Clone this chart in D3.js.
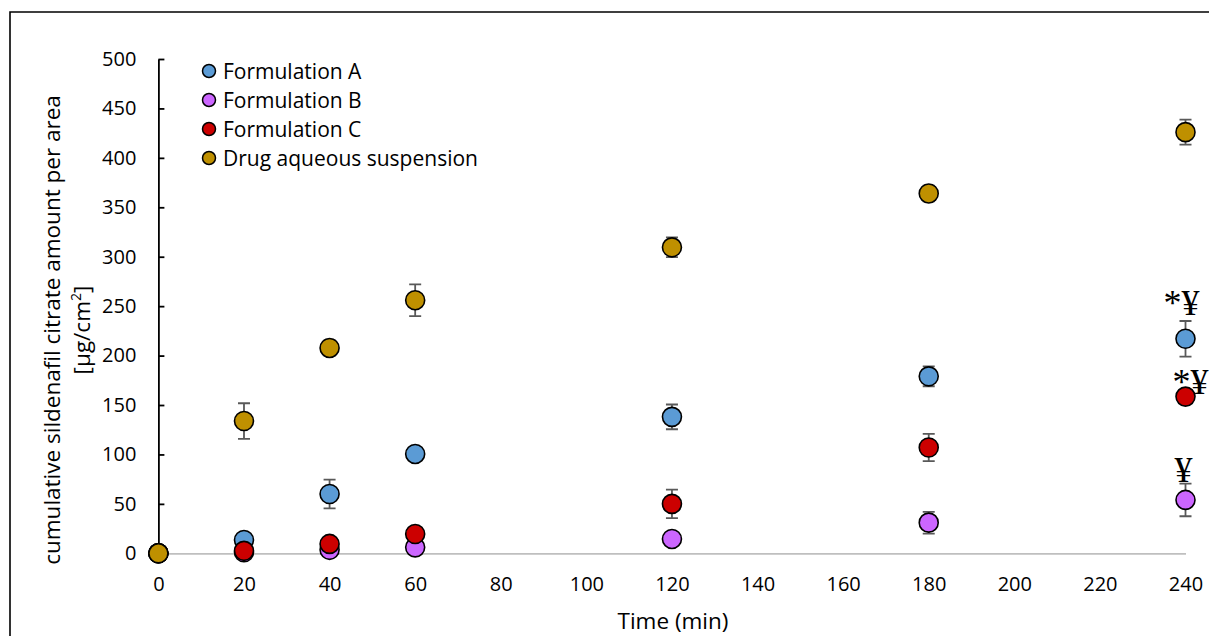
<!DOCTYPE html>
<html>
<head>
<meta charset="utf-8">
<script src="https://cdn.jsdelivr.net/npm/d3@7"></script>
<style>
  body { margin: 0; background: #fff; }
  svg { display: block; font-family: "Open Sans", sans-serif; }
</style>
</head>
<body>
<div id="chart"></div>
<script>
// sampling times (min)
const times = [0, 20, 40, 60, 120, 180, 240]
const y_ticks = [0, 50, 100, 150, 200, 250, 300, 350, 400, 450, 500]
const x_ticks = [0, 20, 40, 60, 80, 100, 120, 140, 160, 180, 200, 220, 240]

const series_names = ["Formulation A", "Formulation B", "Formulation C", "Drug aqueous suspension"]
const series_colors = ["#5b9bd5", "#cc66ff", "#cc0000", "#bf9000"]

// cumulative amount [µg/cm2] and SD
const values_a = [0, 13.5, 60, 100.5, 138, 179, 217]
const errors_a = [0, 2, 14.5, 3, 12.5, 10, 18]
const values_b = [0, 1, 3.5, 6, 14.5, 31, 54]
const errors_b = [0, 1, 2, 3, 3, 11, 16.5]
const values_c = [0, 2.5, 9.5, 19.5, 50, 107, 158.5]
const errors_c = [0, 2, 3, 7, 14.5, 13.8, 5]
const values_d = [0, 133.8, 207.7, 256, 309.5, 364, 426]
const errors_d = [0, 18, 8, 16, 10, 8, 12.6]

// significance marks at 240 min
const mark_series = [0, 2, 1]
const mark_labels = ["*¥", "*¥", "¥"]

const all_values = [values_a, values_b, values_c, values_d]
const all_errors = [errors_a, errors_b, errors_c, errors_d]

const width = 1209
const height = 636
const tick_size = 20
const title_size = 22.5

const svg = d3.select("#chart")
  .append("svg")
  .attr("width", width)
  .attr("height", height)

// outer frame (only left and top visible)
svg.append("path")
  .attr("d", `M10,${height} L10,12 L${width},12`)
  .attr("fill", "none")
  .attr("stroke", "#000")
  .attr("stroke-width", 1.6)

const x = d3.scaleLinear().domain([0, 240]).range([158.4, 1185.5])
const y = d3.scaleLinear().domain([0, 500]).range([553.3, 59])

// x axis (grey line at zero, no ticks)
const x_axis = svg.append("g")
  .attr("transform", `translate(0,${y(0)})`)
  .call(d3.axisBottom(x).tickValues(x_ticks).tickSize(0).tickSizeOuter(0).tickPadding(24))
x_axis.select(".domain").attr("stroke", "#bfbfbf").attr("stroke-width", 1.8)
x_axis.selectAll("text").attr("font-size", tick_size).attr("fill", "#000").attr("font-family", "Open Sans")

// y axis (black line, inner ticks)
const y_axis = svg.append("g")
  .attr("transform", `translate(${x(0)},0)`)
  .call(d3.axisLeft(y).tickValues(y_ticks).tickSize(-6).tickSizeOuter(0).tickPadding(22))
y_axis.select(".domain").attr("stroke", "#000").attr("stroke-width", 1.8)
y_axis.selectAll(".tick line").attr("stroke", "#000").attr("stroke-width", 1.8)
y_axis.selectAll("text").attr("font-size", tick_size).attr("fill", "#000").attr("font-family", "Open Sans")

// axis titles
svg.append("text")
  .attr("x", 673)
  .attr("y", 629)
  .attr("text-anchor", "middle")
  .attr("font-size", title_size)
  .text("Time (min)")

const y_title = svg.append("g").attr("transform", "translate(0,330) rotate(-90)")
y_title.append("text")
  .attr("x", 0)
  .attr("y", 60)
  .attr("text-anchor", "middle")
  .attr("font-size", title_size)
  .text("cumulative sildenafil citrate amount per area")
const unit = y_title.append("text")
  .attr("x", 0)
  .attr("y", 90)
  .attr("text-anchor", "middle")
  .attr("font-size", title_size)
unit.append("tspan").text("[µg/cm")
unit.append("tspan").attr("font-size", 14).attr("dy", -9).text("2")
unit.append("tspan").attr("dy", 9).text("]")

// error bars + markers, series by series
all_values.forEach((vals, si) => {
  const rows = times.map((t, i) => ({ t: t, v: vals[i], e: all_errors[si][i] }))
    .filter(d => d.e > 0)

  const bars = svg.append("g")
    .attr("stroke", "#595959")
    .attr("stroke-width", 1.8)
  bars.selectAll("path")
    .data(rows)
    .join("path")
    .attr("fill", "none")
    .attr("d", d => {
      const cx = x(d.t), top = y(d.v + d.e), bot = y(d.v - d.e)
      return `M${cx},${top}V${bot}M${cx - 6},${top}H${cx + 6}M${cx - 6},${bot}H${cx + 6}`
    })

  svg.append("g").selectAll("circle")
    .data(times.map((t, i) => ({ t: t, v: vals[i] })))
    .join("circle")
    .attr("cx", d => x(d.t))
    .attr("cy", d => y(d.v))
    .attr("r", 9.5)
    .attr("fill", series_colors[si])
    .attr("stroke", "#000")
    .attr("stroke-width", 1.6)
})

// significance marks next to the last points
const mark_offsets = [[-4, -24], [5, -3], [-2, -18]]
mark_series.forEach((si, k) => {
  const last = all_values[si].length - 1
  svg.append("text")
    .attr("x", x(times[last]) + mark_offsets[k][0])
    .attr("y", y(all_values[si][last]) + mark_offsets[k][1])
    .attr("text-anchor", "middle")
    .attr("font-family", "Liberation Serif, serif")
    .attr("font-size", 36)
    .text(mark_labels[k])
})

// legend
const legend = svg.append("g")
series_names.forEach((name, i) => {
  const row = legend.append("g").attr("transform", `translate(209,${71 + i * 29})`)
  row.append("circle")
    .attr("r", 6.5)
    .attr("fill", series_colors[i])
    .attr("stroke", "#000")
    .attr("stroke-width", 1.5)
  row.append("text")
    .attr("x", 14)
    .attr("dy", "0.36em")
    .attr("font-size", 21)
    .text(name)
})
</script>
</body>
</html>
